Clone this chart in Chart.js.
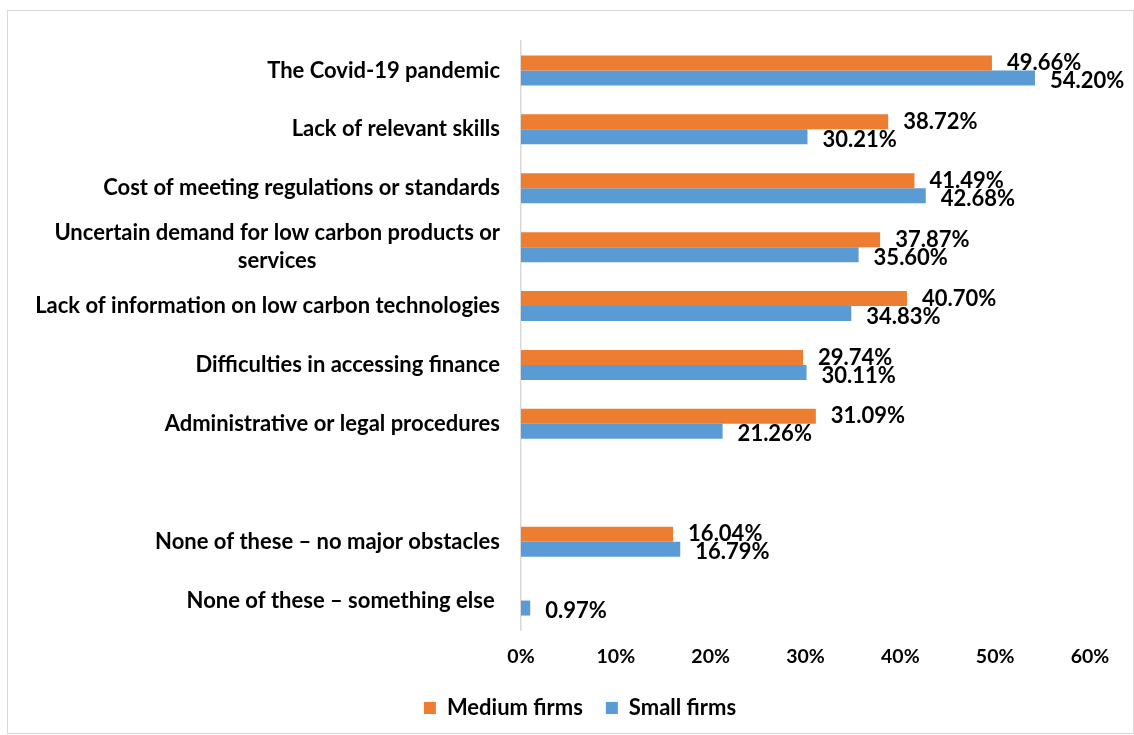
<!DOCTYPE html>
<html>
<head>
<meta charset="utf-8">
<script src="https://cdn.jsdelivr.net/npm/chart.js@4.4.1/dist/chart.umd.min.js"></script>
<style>
  html, body { margin: 0; padding: 0; background: #fff; }
  #wrap { position: absolute; left: 0; top: 0; width: 1134px; height: 735px; }
  #frame { position: absolute; left: 7px; top: 10px; width: 1125px; height: 722px; border: 1px solid #d9d9d9; pointer-events: none; }
</style>
</head>
<body>
<div id="wrap"><canvas id="barChart" width="1134" height="735"></canvas></div>
<div id="frame"></div>
<script>
var categories = [
  ["The Covid-19 pandemic"],
  ["Lack of relevant skills"],
  ["Cost of meeting regulations or standards"],
  ["Uncertain demand for low carbon products or", "services"],
  ["Lack of information on low carbon technologies"],
  ["Difficulties in accessing finance"],
  ["Administrative or legal procedures"],
  [""],
  ["None of these \u2013 no major obstacles"],
  ["None of these \u2013 something else "]
];
var mediumFirms = [49.66, 38.72, 41.49, 37.87, 40.70, 29.74, 31.09, null, 16.04, null];
var smallFirms = [54.20, 30.21, 42.68, 35.60, 34.83, 30.11, 21.26, null, 16.79, 0.97];
var xTicks = [0, 10, 20, 30, 40, 50, 60];

var FONT = 'Lato, "Open Sans", sans-serif';

// category names drawn by hand so wrapped lines sit centred under each other
var categoryLabels = {
  id: 'categoryLabels',
  afterDraw: function(chart) {
    var ctx = chart.ctx;
    var scale = chart.scales.y;
    var right = scale.right - 21;
    ctx.save();
    ctx.font = 'bold 22px ' + FONT;
    ctx.fillStyle = '#000';
    ctx.textAlign = 'center';
    ctx.textBaseline = 'middle';
    categories.forEach(function(lines, i) {
      var w = 0;
      lines.forEach(function(l) { w = Math.max(w, ctx.measureText(l).width); });
      var cx = right - w / 2;
      var y = scale.getPixelForValue(i);
      var lh = 28;
      var y0 = y - (lines.length - 1) * lh / 2;
      lines.forEach(function(l, k) { ctx.fillText(l, cx, y0 + k * lh); });
    });
    ctx.restore();
  }
};

// percentage labels next to the end of each bar
var valueLabels = {
  id: 'valueLabels',
  afterDatasetsDraw: function(chart) {
    var ctx = chart.ctx;
    ctx.save();
    ctx.font = 'bold 22px ' + FONT;
    ctx.fillStyle = '#000';
    ctx.textAlign = 'left';
    ctx.textBaseline = 'middle';
    chart.data.datasets.forEach(function(ds, d) {
      var meta = chart.getDatasetMeta(d);
      meta.data.forEach(function(bar, i) {
        var v = ds.data[i];
        if (v === null) return;
        ctx.fillText(v.toFixed(2) + '%', bar.x + 15, bar.y + (d === 0 ? 0 : 3));
      });
    });
    ctx.restore();
  }
};

var ctx = document.getElementById('barChart').getContext('2d');
var barChart = new Chart(ctx, {
  type: 'bar',
  data: {
    labels: categories.map(function(c) { return c.join(' '); }),
    datasets: [{
      label: 'Medium firms',
      data: mediumFirms,
      backgroundColor: '#ED7D31',
      categoryPercentage: 0.51,
      barPercentage: 1
    }, {
      label: 'Small firms',
      data: smallFirms,
      backgroundColor: '#5B9BD5',
      categoryPercentage: 0.51,
      barPercentage: 1
    }]
  },
  options: {
    indexAxis: 'y',
    responsive: false,
    animation: false,
    layout: { padding: { left: 70, right: 44, top: 41, bottom: 6 } },
    scales: {
      x: {
        min: 0,
        max: 60,
        afterBuildTicks: function(scale) {
          scale.ticks = xTicks.map(function(v) { return { value: v }; });
        },
        afterFit: function(scale) { scale.height = 44; },
        grid: { display: false },
        border: { display: false },
        ticks: {
          padding: 7.3,
          color: '#000',
          font: { family: FONT, size: 19.5, weight: 'bold' },
          callback: function(v) { return v + '%'; }
        }
      },
      y: {
        afterFit: function(scale) { scale.width = 451; },
        grid: { display: false, drawTicks: false },
        border: { display: true, color: '#d9d9d9', width: 1.5 },
        ticks: { display: false }
      }
    },
    plugins: {
      tooltip: { enabled: false },
      legend: {
        position: 'bottom',
        labels: {
          boxWidth: 12,
          boxHeight: 12,
          padding: 23,
          color: '#000',
          font: { family: FONT, size: 22, weight: 'bold' }
        }
      }
    }
  },
  plugins: [categoryLabels, valueLabels]
});
</script>
</body>
</html>
